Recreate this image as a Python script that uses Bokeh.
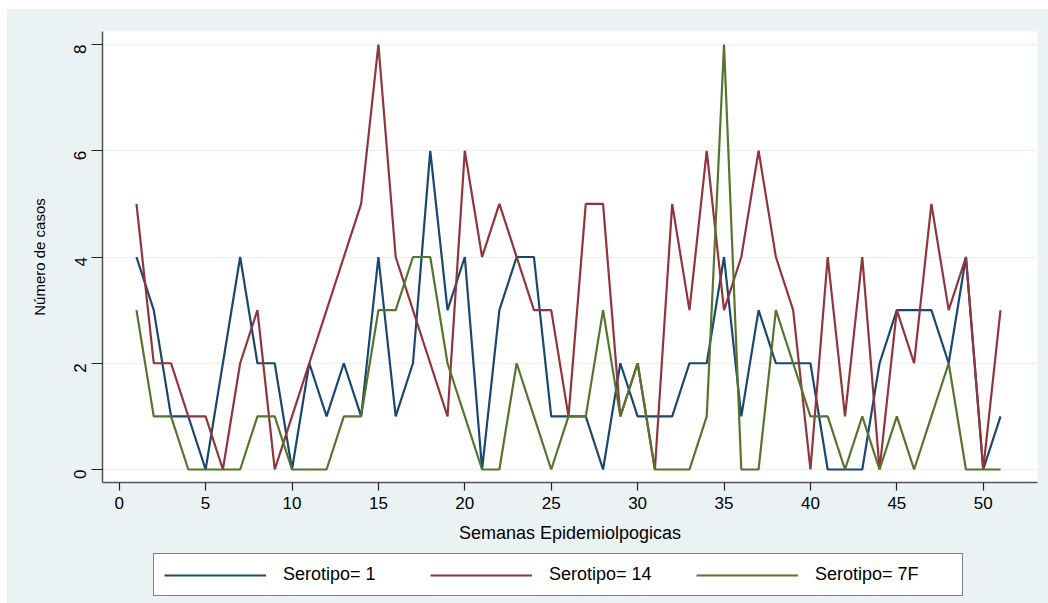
import math
from bokeh.plotting import figure
from bokeh.layouts import row, column
from bokeh.models import Legend, LegendItem, FixedTicker, Range1d, Spacer
from bokeh.embed import file_html
from bokeh.resources import INLINE

weeks = list(range(1, 52))
serotipo_1 = [4, 3, 1, 1, 0, 2, 4, 2, 2, 0,
              2, 1, 2, 1, 4, 1, 2, 6, 3, 4,
              0, 3, 4, 4, 1, 1, 1, 0, 2, 1,
              1, 1, 2, 2, 4, 1, 3, 2, 2, 2,
              0, 0, 0, 2, 3, 3, 3, 2, 4, 0, 1]
serotipo_14 = [5, 2, 2, 1, 1, 0, 2, 3, 0, 1,
               2, 3, 4, 5, 8, 4, 3, 2, 1, 6,
               4, 5, 4, 3, 3, 1, 5, 5, 1, 2,
               0, 5, 3, 6, 3, 4, 6, 4, 3, 0,
               4, 1, 4, 0, 3, 2, 5, 3, 4, 0, 3]
serotipo_7f = [3, 1, 1, 0, 0, 0, 0, 1, 1, 0,
               0, 0, 1, 1, 3, 3, 4, 4, 2, 1,
               0, 0, 2, 1, 0, 1, 1, 3, 1, 2,
               0, 0, 0, 1, 8, 0, 0, 3, 2, 1,
               1, 0, 1, 0, 1, 0, 1, 2, 0, 0, 0]
labels = ["Serotipo= 1", "Serotipo= 14", "Serotipo= 7F"]
colors = ["#1a476f", "#90353b", "#55752f"]
x_ticks = [0, 5, 10, 15, 20, 25, 30, 35, 40, 45, 50]
y_ticks = [0, 2, 4, 6, 8]
series = [serotipo_1, serotipo_14, serotipo_7f]

FONT = "Liberation Sans"
BG = "#EAF2F3"

p = figure(width=1041, height=541, output_backend="svg", toolbar_location=None,
           x_range=Range1d(-0.966, 53.14), y_range=Range1d(-0.245, 8.245),
           min_border_left=95, min_border_right=11, min_border_top=22,
           min_border_bottom=68,
           background_fill_color="white", border_fill_color=BG,
           outline_line_color=None)

for ys, c in zip(series, colors):
    p.line(weeks, ys, line_color=c, line_width=2.2)

p.xgrid.grid_line_color = None
p.ygrid.grid_line_color = BG
p.ygrid.grid_line_width = 1.5
p.ygrid.ticker = FixedTicker(ticks=y_ticks)

for ax in (p.xaxis[0], p.yaxis[0]):
    ax.axis_line_color = "#555555"
    ax.axis_line_width = 1.5
    ax.major_tick_line_color = "#222222"
    ax.major_tick_line_width = 1.2
    ax.major_tick_in = 0
    ax.minor_tick_line_color = None
    ax.major_label_text_font = FONT
    ax.major_label_text_font_size = "17px"
    ax.major_label_text_color = "black"
    ax.axis_label_text_font = FONT
    ax.axis_label_text_font_style = "normal"
    ax.axis_label_text_color = "black"

p.xaxis.ticker = FixedTicker(ticks=x_ticks)
p.xaxis.major_tick_out = 8
p.xaxis.major_label_standoff = 6
p.xaxis.axis_label = "Semanas Epidemiolpogicas"
p.xaxis.axis_label_text_font_size = "18px"
p.xaxis.axis_label_standoff = 11

p.yaxis.ticker = FixedTicker(ticks=y_ticks)
p.yaxis.major_tick_out = 11
p.yaxis.major_label_orientation = math.pi / 2
p.yaxis.major_label_standoff = 11
p.yaxis.axis_label = "Número de casos"
p.yaxis.axis_label_text_font_size = "15px"
p.yaxis.axis_label_standoff = 18

# legend strip below the chart (key lines are kept outside its visible range)
p2 = figure(width=1041, height=53, output_backend="svg", toolbar_location=None,
            x_range=Range1d(-20, -10), y_range=Range1d(-20, -10),
            x_axis_type=None, y_axis_type=None,
            min_border_left=95, min_border_right=11,
            min_border_top=0, min_border_bottom=0,
            background_fill_color=BG, border_fill_color=BG,
            outline_line_color=None)
p2.xgrid.grid_line_color = None
p2.ygrid.grid_line_color = None
keys = [p2.line(weeks, ys, line_color=c, line_width=2.2) for ys, c in zip(series, colors)]

legend = Legend(items=[LegendItem(label=l, renderers=[r]) for l, r in zip(labels, keys)],
                orientation="horizontal", location=(51, 7),
                glyph_width=102, glyph_height=20, label_standoff=17,
                label_width=137, spacing=10, padding=10, margin=0,
                label_text_font=FONT, label_text_font_size="18px",
                label_text_color="black",
                border_line_color="black", border_line_width=1,
                background_fill_color="white", background_fill_alpha=1.0)
p2.add_layout(legend, "center")

chart = column(p, p2, styles={"background-color": BG})
layout = row(Spacer(width=7), column(Spacer(height=9), chart))
open("out.html", "w").write(file_html(layout, INLINE))
